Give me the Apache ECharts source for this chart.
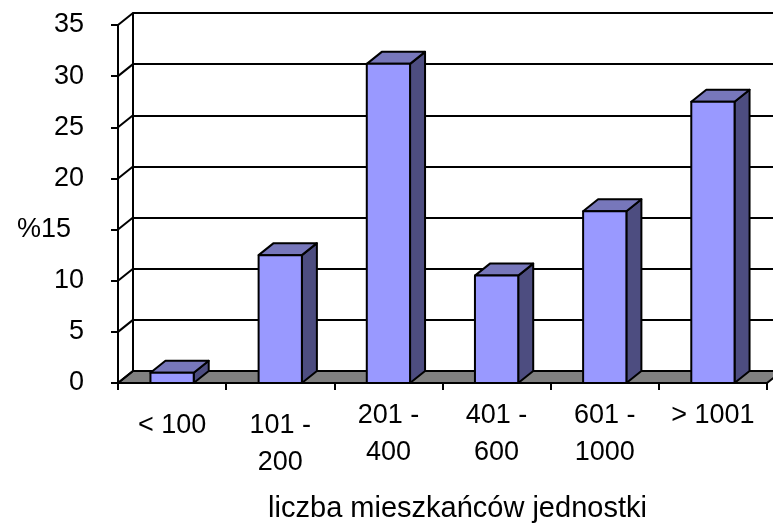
<!DOCTYPE html>
<html>
<head>
<meta charset="utf-8">
<script src="https://cdn.jsdelivr.net/npm/echarts@6/dist/echarts.min.js"></script>
<style>html,body{margin:0;padding:0;background:#fff}#c{width:773px;height:525px}</style>
</head>
<body>
<div id="c"></div>
<script>
const categories = ['< 100', '101 -\n200', '201 -\n400', '401 -\n600', '601 -\n1000', '> 1001'];
const values = [1.0, 12.5, 31.2, 10.5, 16.8, 27.5];
const yTicks = [0, 5, 10, 15, 20, 25, 30, 35];
const yAxisName = '%';
const xAxisName = 'liczba mieszkańców jednostki';

const DX = 15, DY = -12;
const FONT = "'Liberation Sans', Arial, sans-serif";
const FRONT = '#9999FF', TOP = '#7777BB', SIDE = '#4D4D80', FLOOR = '#808080';

const chart = echarts.init(document.getElementById('c'), null, {renderer: 'canvas'});

function floorItem(params, api) {
  const cs = params.coordSys;
  const y0 = api.coord([0, 0])[1];
  return {
    type: 'polygon',
    shape: {points: [[cs.x, y0], [cs.x + cs.width, y0], [cs.x + cs.width + DX, y0 + DY], [cs.x + DX, y0 + DY]]},
    style: {fill: FLOOR, stroke: '#000', lineWidth: 2}
  };
}
function wallItem(params, api) {
  const cs = params.coordSys;
  const y = api.coord([0, api.value(1)])[1];
  return {
    type: 'line',
    shape: {x1: cs.x, y1: y, x2: cs.x + DX, y2: y + DY},
    style: {stroke: '#000', lineWidth: 2}
  };
}
function barItem(params, api) {
  const idx = api.value(0), v = api.value(1);
  const base = api.coord([idx, 0]), top = api.coord([idx, v]);
  const bw = api.size([1, 0])[0] * 0.4;
  const xl = base[0] - bw / 2, xr = base[0] + bw / 2, yb = base[1], yt = top[1];
  const st = {stroke: '#000', lineWidth: 2, lineJoin: 'round'};
  return {
    type: 'group',
    children: [
      {type: 'polygon', shape: {points: [[xr, yb], [xr + DX, yb + DY], [xr + DX, yt + DY], [xr, yt]]}, style: Object.assign({fill: SIDE}, st)},
      {type: 'polygon', shape: {points: [[xl, yt], [xr, yt], [xr + DX, yt + DY], [xl + DX, yt + DY]]}, style: Object.assign({fill: TOP}, st)},
      {type: 'rect', shape: {x: xl, y: yt, width: bw, height: yb - yt}, style: Object.assign({fill: FRONT}, st)}
    ]
  };
}

chart.setOption({
  animation: false,
  backgroundColor: '#fff',
  grid: [
    {left: 118, top: 25, width: 649, height: 358, outerBoundsMode: 'none', containLabel: false},
    {left: 118 + DX, top: 25 + DY, width: 649, height: 358, outerBoundsMode: 'none', containLabel: false}
  ],
  xAxis: [
    {
      gridIndex: 0, type: 'category', data: categories, boundaryGap: true,
      axisLine: {show: true, lineStyle: {color: '#000', width: 2}},
      axisTick: {show: true, length: 7, lineStyle: {color: '#000', width: 2}},
      axisLabel: {
        margin: 14, interval: 0,
        formatter: function (val, i) {
          const lines = val.split('\n').map(s => '{t|' + s + '}').join('\n');
          return i < 2 ? '{sp| }\n' + lines : lines;
        },
        rich: {
          t: {fontSize: 27, lineHeight: 37, fontFamily: FONT, color: '#000'},
          sp: {fontSize: 2, lineHeight: 10}
        }
      },
      name: xAxisName, nameLocation: 'middle', nameGap: 111,
      nameTextStyle: {fontSize: 29, fontFamily: FONT, color: '#000', padding: [0, 0, 0, 30]}
    },
    {gridIndex: 1, type: 'category', data: categories, show: false}
  ],
  yAxis: [
    {
      gridIndex: 0, type: 'value', min: 0, max: 35, interval: 5,
      axisLine: {show: true, lineStyle: {color: '#000', width: 2}},
      axisTick: {show: true, length: 7, lineStyle: {color: '#000', width: 2}},
      splitLine: {show: false},
      axisLabel: {
        margin: 34, fontSize: 27, fontFamily: FONT, color: '#000',
        formatter: function (v) {
          return v === 15 ? '{p|' + yAxisName + v + '}' : String(v);
        },
        rich: {p: {fontSize: 27, fontFamily: FONT, color: '#000', padding: [0, 13, 0, 0]}}
      }
    },
    {
      gridIndex: 1, type: 'value', min: 0, max: 35, interval: 5,
      axisLine: {show: true, lineStyle: {color: '#000', width: 2}},
      axisTick: {show: false}, axisLabel: {show: false},
      splitLine: {show: true, lineStyle: {color: '#000', width: 2}}
    }
  ],
  series: [
    {type: 'custom', xAxisIndex: 0, yAxisIndex: 0, z: 3, silent: true, renderItem: floorItem, data: [[0, 0]]},
    {type: 'custom', xAxisIndex: 0, yAxisIndex: 0, z: 3, silent: true, renderItem: wallItem, data: yTicks.map(v => [0, v])},
    {type: 'custom', xAxisIndex: 0, yAxisIndex: 0, z: 4, silent: true, renderItem: barItem,
      encode: {x: 0, y: 1}, data: values.map((v, i) => [i, v])}
  ]
});
</script>
</body>
</html>
